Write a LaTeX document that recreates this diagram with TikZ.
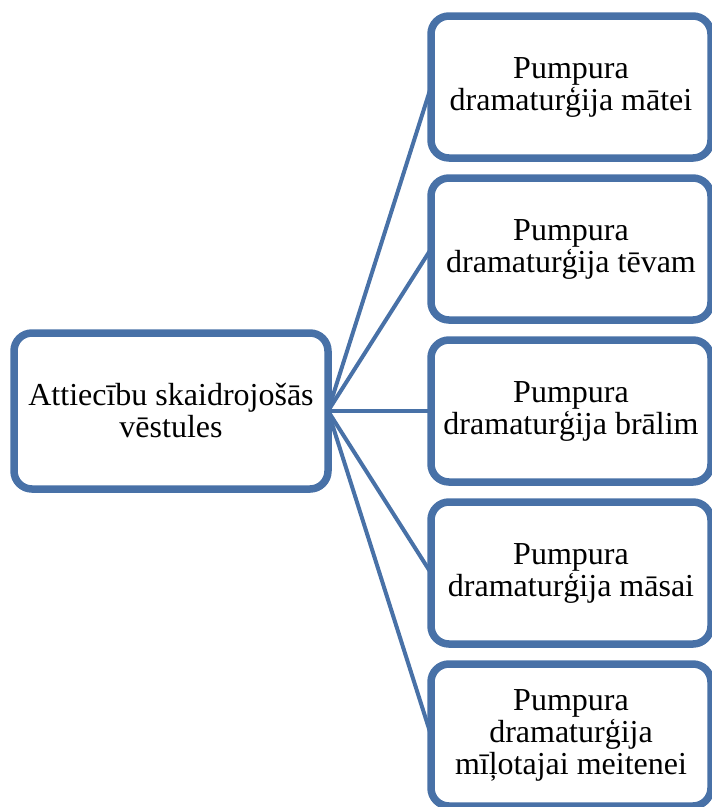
\documentclass[tikz,border=0pt]{standalone}
\usepackage{fontspec}
\setmainfont{Liberation Serif}
\usetikzlibrary{shadows}
\definecolor{boxblue}{RGB}{72,113,167}

\begin{document}
\begin{tikzpicture}[x=1pt,y=1pt,
    box/.style={draw=boxblue, line width=7.5pt, fill=white, rounded corners=18pt,
        align=center, inner sep=0pt, outer sep=0pt,
        font=\fontsize{32}{32}\selectfont,
        drop shadow={shadow xshift=2pt, shadow yshift=-3pt, opacity=0.3, fill=black!60}},
    link/.style={draw=boxblue, line width=4pt}]
    \useasboundingbox (0,0) rectangle (712,-807);

    % kreisais bloks
    \node[box, minimum width=314pt, minimum height=156pt] (src) at (171,-411)
        {Attiecību skaidrojošās\\vēstules};

    % labās puses bloki
    \foreach \i/\txt in {1/{Pumpura\\dramaturģija mātei},
                         2/{Pumpura\\dramaturģija tēvam},
                         3/{Pumpura\\dramaturģija brālim},
                         4/{Pumpura\\dramaturģija māsai},
                         5/{Pumpura\\dramaturģija\\mīļotajai meitenei}} {
        \node[box, minimum width=280pt, minimum height=142pt] (r\i) at (571,{-87-162*(\i-1)}) {\txt};
    }

    % savienojumi
    \foreach \i in {1,...,5} {
        \draw[link] (src.east) -- (r\i.west);
    }
\end{tikzpicture}
\end{document}
